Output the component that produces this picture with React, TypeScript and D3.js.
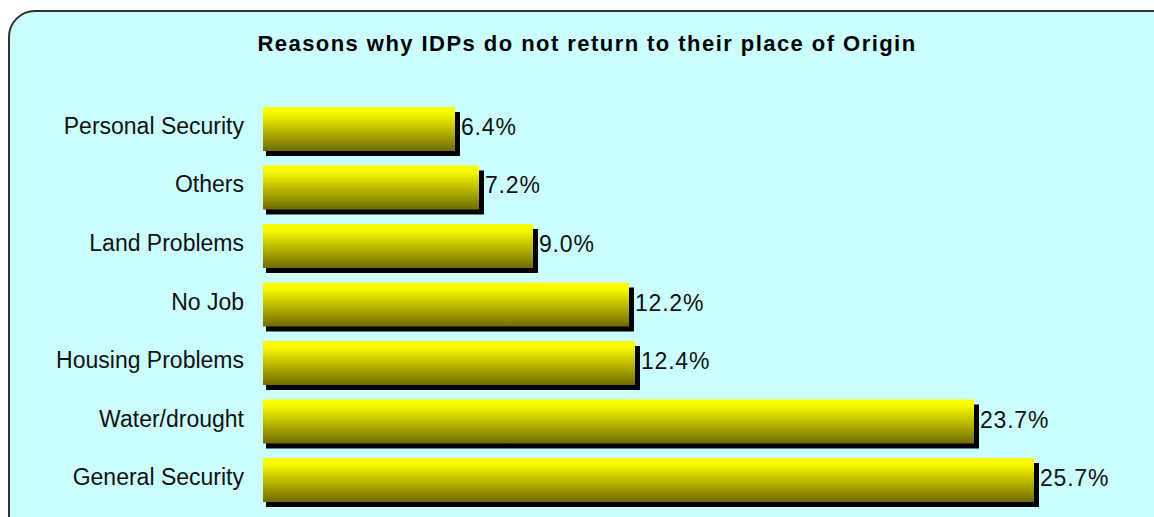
import React from "react";
import * as d3 from "d3";

const categories = ["Personal Security", "Others", "Land Problems", "No Job", "Housing Problems", "Water/drought", "General Security"];
const values = [6.4, 7.2, 9.0, 12.2, 12.4, 23.7, 25.7];
const title = "Reasons why IDPs do not return to their place of Origin";

export default function App() {
  const W = 1154, H = 517;
  const x = d3.scaleLinear().domain([0, 30]).range([263, 1163]);
  const y = d3.scaleBand<string>().domain(categories).range([107, 502]).paddingInner(0.248).paddingOuter(0);
  const font = "'Liberation Sans', Arial, Helvetica, sans-serif";
  const sh = 5;
  return (
    <svg width={W} height={H} style={{ position: "absolute", left: 0, top: 0 }} fontFamily={font}>
      <defs>
        <linearGradient id="barGrad" x1="0" y1="0" x2="0" y2="1">
          <stop offset="0" stopColor="#ffff00" />
          <stop offset="0.15" stopColor="#f8f800" />
          <stop offset="1" stopColor="#6e6b00" />
        </linearGradient>
      </defs>
      <rect x={0} y={0} width={W} height={H} fill="#ffffff" />
      <rect x={9} y={11} width={1170} height={540} rx={26} ry={26} fill="#ccffff" stroke="#333333" strokeWidth={2} />
      <text x={587} y={51} textAnchor="middle" fontWeight="bold" fontSize={22} letterSpacing={1.45} fill="#000">{title}</text>
      {categories.map((c, i) => {
        const y0 = y(c)!;
        const bh = y.bandwidth();
        const x0 = x(0);
        const x1 = x(values[i]);
        return (
          <g key={c}>
            <rect x={x0 + 3} y={y0 + sh} width={x1 - x0 + 2} height={bh} fill="#000" />
            <rect x={x0} y={y0} width={x1 - x0} height={bh} fill="url(#barGrad)" />
            <text x={244} y={y0 + bh / 2 + 5} textAnchor="end" fontSize={23} fill="#111">{c}</text>
            <text x={x1 + 6} y={y0 + bh / 2 + 6} fontSize={23} letterSpacing={0.8} fill="#111">{values[i].toFixed(1)}%</text>
          </g>
        );
      })}
    </svg>
  );
}
